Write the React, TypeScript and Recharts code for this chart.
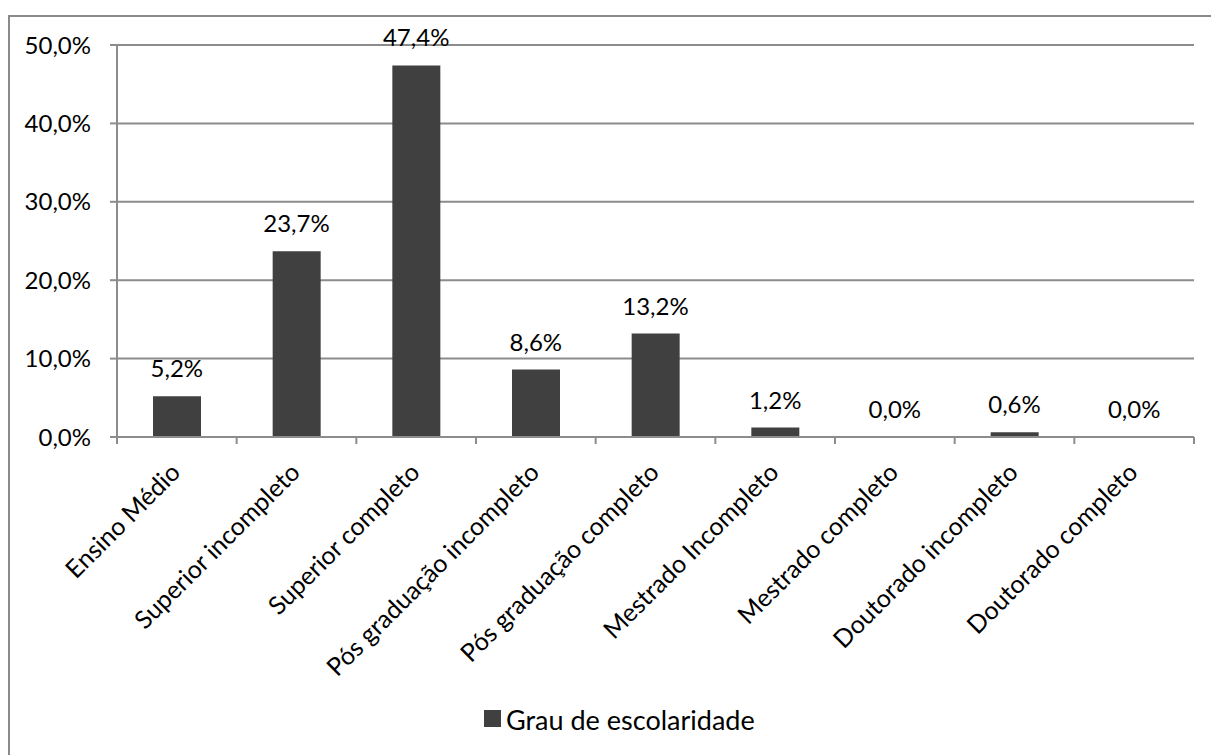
import React from 'react';
import {
  ComposedChart,
  Bar,
  Line,
  XAxis,
  YAxis,
  CartesianGrid,
  LabelList,
  Legend,
} from 'recharts';

const categories = [
  'Ensino Médio',
  'Superior incompleto',
  'Superior completo',
  'Pós graduação incompleto',
  'Pós graduação completo',
  'Mestrado Incompleto',
  'Mestrado completo',
  'Doutorado incompleto',
  'Doutorado completo',
];
const values = [5.2, 23.7, 47.4, 8.6, 13.2, 1.2, 0.0, 0.6, 0.0];
const yTicks = [0, 10, 20, 30, 40, 50];
const seriesName = 'Grau de escolaridade';

const data = categories.map((name, i) => ({ name, value: values[i] }));

const FONT = 'Lato, "Open Sans", sans-serif';
const FS = 24;
const XFS = 25;
const GRID = '#8c8c8c';
const BAR = '#404040';
const TICK_LEN = 7;

const fmt = (v: number) => Number(v).toFixed(1).replace('.', ',') + '%';

const XTick = (props: any) => {
  const { x, y, payload, index } = props;
  const half = payload && typeof payload.offset === 'number' ? payload.offset : 0;
  const isLast = index === categories.length - 1;
  return (
    <g>
      {half > 0 && (
        <line
          x1={x - half}
          x2={x - half}
          y1={y}
          y2={y + TICK_LEN}
          stroke={GRID}
          strokeWidth={2}
        />
      )}
      {half > 0 && isLast && (
        <line
          x1={x + half}
          x2={x + half}
          y1={y}
          y2={y + TICK_LEN}
          stroke={GRID}
          strokeWidth={2}
        />
      )}
      <g transform={`translate(${x + 5},${y + 37})`}>
        <text
          textAnchor="end"
          transform="rotate(-45)"
          fontSize={XFS}
          fontFamily={FONT}
          fill="#000"
        >
          {payload.value}
        </text>
      </g>
    </g>
  );
};

const LegendContent = () => (
  <div
    style={{
      display: 'flex',
      alignItems: 'flex-end',
      fontFamily: FONT,
      fontSize: 27,
      color: '#000',
      whiteSpace: 'nowrap',
      lineHeight: '27px',
    }}
  >
    <span
      style={{
        display: 'inline-block',
        width: 17,
        height: 17,
        background: BAR,
        marginRight: 5,
        marginBottom: 6,
      }}
    />
    <span>{seriesName}</span>
  </div>
);

export default function App() {
  return (
    <div
      style={{
        position: 'relative',
        width: 1211,
        height: 755,
        overflow: 'hidden',
        background: '#fff',
      }}
    >
      <style>{'body{margin:0;overflow:hidden;}'}</style>
      <div
        style={{
          position: 'absolute',
          left: 8,
          top: 15,
          width: 1400,
          height: 1000,
          border: '2px solid #8a8a8a',
          boxSizing: 'border-box',
        }}
      />
      <div style={{ position: 'absolute', left: 0, top: 0 }}>
        <ComposedChart
          width={1211}
          height={755}
          data={data}
          margin={{ top: 45, right: 17, bottom: 0, left: 0 }}
        >
          <CartesianGrid vertical={false} stroke={GRID} strokeWidth={2} />
          <XAxis
            dataKey="name"
            height={318}
            interval={0}
            axisLine={{ stroke: GRID, strokeWidth: 2 }}
            tickLine={false}
            tickSize={0}
            tickMargin={0}
            tick={<XTick />}
          />
          <YAxis
            width={117}
            domain={[0, 50]}
            ticks={yTicks}
            tickFormatter={fmt}
            axisLine={{ stroke: GRID, strokeWidth: 2 }}
            tickLine={{ stroke: GRID, strokeWidth: 2 }}
            tickSize={7}
            tickMargin={19}
            tick={{ fill: '#000', fontSize: FS, fontFamily: FONT }}
          />
          <Legend
            layout="horizontal"
            verticalAlign="middle"
            align="center"
            wrapperStyle={{ left: 484, top: 706, width: 'auto', height: 'auto' }}
            content={<LegendContent />}
          />
          <Bar
            dataKey="value"
            name={seriesName}
            fill={BAR}
            barSize={48}
            isAnimationActive={false}
          />
          <Line
            dataKey="value"
            legendType="none"
            stroke="none"
            dot={false}
            activeDot={false}
            isAnimationActive={false}
          >
            <LabelList
              dataKey="value"
              position="top"
              offset={19}
              formatter={(v: any) => fmt(v)}
              fill="#000"
              fontSize={FS}
              fontFamily={FONT}
            />
          </Line>
        </ComposedChart>
      </div>
    </div>
  );
}
